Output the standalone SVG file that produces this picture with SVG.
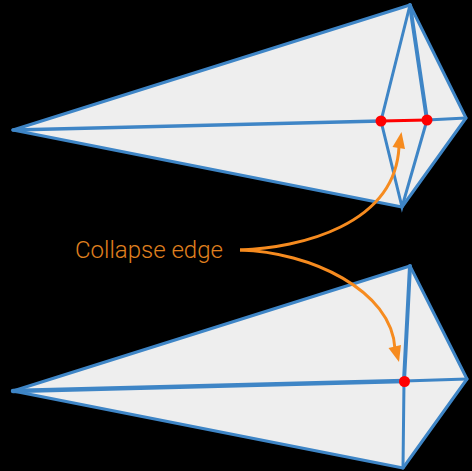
<svg xmlns="http://www.w3.org/2000/svg" width="472" height="471" viewBox="0 0 472 471">
<style>
.mesh{fill:#eeeeee;stroke:#3e85c6;stroke-width:3;stroke-linejoin:round}
.e{fill:none;stroke:#3e85c6;stroke-linecap:round}
.v{fill:#ff0000}
.arrow{fill:none;stroke:#f68b1f;stroke-width:3}
.head{fill:#f68b1f}
text{font-family:Roboto,"Liberation Sans",sans-serif;font-size:24px;font-weight:300;fill:#e0801f}
</style>
<rect width="472" height="471" fill="#000000"/>
<g id="top-mesh">
<polygon class="mesh" points="13,130 410,5 466,118 402,207"/>
<path class="e" stroke-width="3.5" d="M13,130 L381,121"/>
<path class="e" stroke-width="3" d="M427,120 L466,118"/>
<path class="e" stroke-width="3" d="M410,5 L381,121 L402,207 L427,120"/>
<path class="e" stroke-width="4" d="M410,5 L427,120"/>
<path d="M381,121 L427,120" fill="none" stroke="#ff0000" stroke-width="3"/>
</g>
<g id="top-vertex-a"><circle class="v" cx="381" cy="121" r="5.5"/></g>
<g id="top-vertex-b"><circle class="v" cx="427" cy="120" r="5.5"/></g>
<g id="bottom-mesh">
<polygon class="mesh" points="13,391 410,266 467,379 403,468"/>
<path class="e" stroke-width="4.5" d="M13,391 L404,381"/>
<path class="e" stroke-width="3" d="M404,381 L467,379"/>
<path class="e" stroke-width="4" d="M410,266 L404,381"/>
<path class="e" stroke-width="3" d="M404,381 L403,468"/>
</g>
<g id="bottom-vertex"><circle class="v" cx="404.500" cy="381.500" r="5.500"/></g>
<g id="connectors">
<path class="arrow" d="M240,250 C300,248 395,225 399,147"/>
<polygon class="head" points="401.500,132 392.500,147 405,149"/>
<path class="arrow" d="M240,250 C310,252 392,290 395,349"/>
<polygon class="head" points="399,362 388.500,348 401,345"/>
</g>
<g id="label"><text x="75" y="258">Collapse edge</text></g>
</svg>
